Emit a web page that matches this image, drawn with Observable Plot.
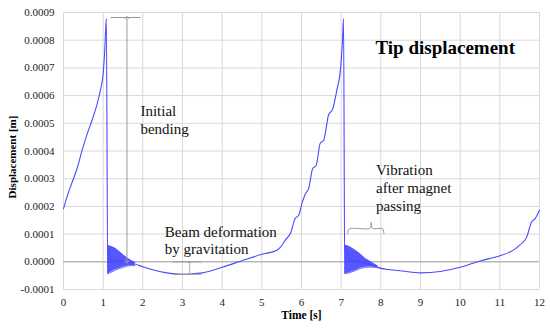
<!DOCTYPE html>
<html>
<head>
<meta charset="utf-8">
<script src="https://cdn.jsdelivr.net/npm/d3@7"></script>
<script src="https://cdn.jsdelivr.net/npm/@observablehq/plot@0.6"></script>
<style>
  html, body { margin: 0; padding: 0; background: #fff; }
  #chart svg, #chart svg text { font-family: "Liberation Serif", "Times New Roman", serif !important; }
</style>
</head>
<body>
<div id="chart"></div>
<script>
// ---- Data ----
const time = [0, 0.1, 0.22, 0.34, 0.47, 0.6, 0.72, 0.85, 0.93, 1.0, 1.04, 1.08, 1.115, 1.13,
  1.2, 1.31, 1.42, 1.52, 1.62, 1.72, 1.8, 2.0, 2.2, 2.6, 3.0, 3.2, 3.5, 4.0, 4.5, 5.0, 5.38,
  5.47, 5.6, 5.72, 5.84, 5.93, 6.01, 6.1, 6.18, 6.28, 6.37, 6.47, 6.56, 6.68, 6.79, 6.89,
  6.98, 7.03, 7.06, 7.09, 7.1, 7.2, 7.36, 7.48, 7.61, 7.72, 7.82, 7.94, 8.2, 8.53, 9.0,
  9.5, 10.0, 10.5, 11.0, 11.34, 11.5, 11.68, 11.8, 11.89, 12.0];
const displacement = [0.000192, 0.00024, 0.000288, 0.000336, 0.000403, 0.000463, 0.000511,
  0.000571, 0.000619, 0.000679, 0.000764, 0.000878, -0.000043, 0.00005,
  0.000008, 0.000009, 0.000005, 0.000002, -0.000002, -0.000005, -0.000008, -0.000018,
  -0.000027, -0.00004, -0.000045, -0.000044, -0.00004, -0.00002, 0.000004, 0.000027,
  0.000042, 0.000053, 0.00008, 0.000102, 0.000156, 0.000168, 0.00021, 0.000246, 0.000264,
  0.000336, 0.000348, 0.000427, 0.000439, 0.000529, 0.000553, 0.000619, 0.000691,
  0.000788, 0.000878, -0.000043, 0.00006, 0.000008, 0.000005, 0.000002, -0.000005,
  -0.000009, -0.000013, -0.000021, -0.000028, -0.000033, -0.00004, -0.000035, -0.00002,
  0.000003, 0.000022, 0.000042, 0.00006, 0.00009, 0.000144, 0.000156, 0.000186];

// Vibration envelope after each magnet passing
const vibTime = [1.12, 1.2, 1.31, 1.42, 1.52, 1.62, 1.72, 1.8,
                 7.1, 7.2, 7.36, 7.48, 7.61, 7.72, 7.82, 7.92];
const vibLow  = [-0.000043, -0.000038, -0.00003, -0.000024, -0.000019, -0.000015, -0.000013, -0.000014,
                 -0.000043, -0.00004, -0.000032, -0.000024, -0.00002, -0.000019, -0.00002, -0.000021];
const vibHigh = [0.000058, 0.000055, 0.000048, 0.000035, 0.000023, 0.000012, 0.000003, -0.000002,
                 0.00006, 0.000055, 0.000041, 0.000028, 0.000011, 0.000002, -0.000007, -0.000015];
const vibCycle = [1, 1, 1, 1, 1, 1, 1, 1, 2, 2, 2, 2, 2, 2, 2, 2];

// Axis ticks
const xTicks = [0, 1, 2, 3, 4, 5, 6, 7, 8, 9, 10, 11, 12];
const yTicks = [-0.0001, 0, 0.0001, 0.0002, 0.0003, 0.0004, 0.0005, 0.0006, 0.0007, 0.0008, 0.0009];

// Annotation values
const peakValue = 0.000882;
const sagValue = -0.000045;

// ---- Build tables ----
const series = time.map((t, i) => ({t, v: displacement[i]}));
const band = vibTime.map((t, i) => ({t, lo: vibLow[i], hi: vibHigh[i], c: vibCycle[i]}));

const FONT = "'Liberation Serif', 'Times New Roman', serif";
const gray = "#9a9a9a";
const blue = "#4a4aff";

const brace = [[7.167, 0.000101], [7.18, 0.000115], [7.22, 0.00012], [7.71, 0.00012],
  [7.745, 0.000126], [7.757, 0.000143], [7.77, 0.000126], [7.80, 0.00012],
  [8.03, 0.00012], [8.065, 0.000115], [8.075, 0.000101]];

const chart = Plot.plot({
  width: 550,
  height: 331,
  marginLeft: 63,
  marginRight: 11,
  marginTop: 12,
  marginBottom: 42,
  style: {fontFamily: FONT, fontSize: "11px", color: "#222", background: "#fff"},
  x: {domain: [0, 12]},
  y: {domain: [-0.0001, 0.0009]},
  marks: [
    Plot.gridX(xTicks, {stroke: "#d9d9d9", strokeOpacity: 1}),
    Plot.gridY(yTicks, {stroke: "#d9d9d9", strokeOpacity: 1}),
    Plot.ruleY([0], {stroke: "#a6a6a6"}),
    Plot.axisX(xTicks, {tickSize: 0, tickPadding: 9, label: null, fontSize: 11}),
    Plot.axisY(yTicks, {tickSize: 0, tickPadding: 9, label: null, fontSize: 11,
      tickFormat: d => d.toFixed(4)}),
    // vibration bands
    Plot.areaY(band, {x: "t", y1: "lo", y2: "hi", z: "c", fill: "#3a3aff", fillOpacity: 0.85}),
    Plot.line(band, {x: "t", y: "hi", z: "c", stroke: blue, strokeWidth: 0.8}),
    Plot.line(band, {x: "t", y: "lo", z: "c", stroke: blue, strokeWidth: 0.8}),
    // main curve
    Plot.line(series, {x: "t", y: "v", stroke: blue, strokeWidth: 1.1, curve: "monotone-x"}),
    // Initial bending annotation
    Plot.ruleY([peakValue], {x1: 1.2, x2: 1.96, stroke: gray}),
    Plot.link([0], {x1: 1.6, x2: 1.6, y1: 0, y2: peakValue, stroke: gray,
      markerStart: "arrow-reverse", markerEnd: "arrow"}),
    // gravitation sag annotation
    Plot.ruleY([0, sagValue], {x1: 2.76, x2: 3.49, stroke: gray}),
    Plot.link([0], {x1: 3.18, x2: 3.18, y1: 0, y2: sagValue, stroke: gray,
      markerStart: "arrow-reverse", markerEnd: "arrow", strokeWidth: 0.8}),
    // brace
    Plot.line(brace, {x: d => d[0], y: d => d[1], stroke: gray, strokeWidth: 1, curve: "catmull-rom"}),
    // texts
    Plot.text(["Initial\nbending"], {x: 1.94, y: 0.000573, textAnchor: "start", lineAnchor: "top",
      fontSize: 15, lineHeight: 1.22, fill: "#111"}),
    Plot.text(["Beam deformation\nby gravitation"], {x: 2.554, y: 0.000133, textAnchor: "start",
      lineAnchor: "top", fontSize: 15, lineHeight: 1.15, fill: "#111"}),
    Plot.text(["Vibration\nafter magnet\npassing"], {x: 7.88, y: 0.000362, textAnchor: "start",
      lineAnchor: "top", fontSize: 15, lineHeight: 1.22, fill: "#111"}),
    Plot.text(["Tip displacement"], {x: 7.865, y: 0.0008, textAnchor: "start", lineAnchor: "top",
      fontSize: 19, fontWeight: "bold", fill: "#000"}),
    // axis titles
    Plot.text(["Time [s]"], {frameAnchor: "bottom", dy: 29, fontSize: 11.5, fontWeight: "bold", fill: "#000"}),
    Plot.text(["Displacement [m]"], {frameAnchor: "left", textAnchor: "middle", dx: -51, dy: 6,
      rotate: -90, fontSize: 11, fontWeight: "bold", fill: "#000"})
  ]
});
document.getElementById("chart").appendChild(chart);
</script>
</body>
</html>
